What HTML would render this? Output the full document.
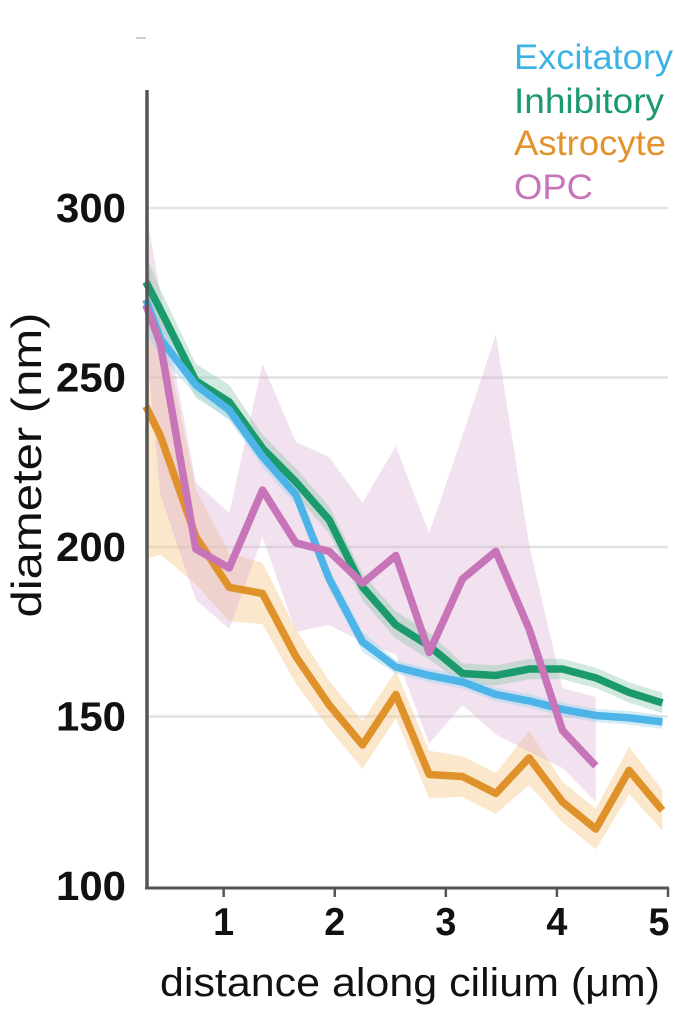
<!DOCTYPE html>
<html><head><meta charset="utf-8"><style>
html,body{margin:0;padding:0;background:#fff;}
svg{display:block;font-family:"Liberation Sans",sans-serif;}
</style></head><body>
<svg id="chart" width="675" height="1023" viewBox="0 0 675 1023">
<line x1="136" y1="38" x2="146" y2="38" stroke="#999" stroke-width="1"/>
<g id="grid"></g>
<g id="bands"></g>
<g id="lines"></g>
<g id="axes"></g>
<text transform="translate(41,465) rotate(-90)" text-anchor="middle" font-size="42" textLength="305" lengthAdjust="spacingAndGlyphs" fill="#111">diameter (nm)</text>
<text x="410" y="996" text-anchor="middle" font-size="40" textLength="500" lengthAdjust="spacingAndGlyphs" fill="#111">distance along cilium (μm)</text>
<g font-size="35">
<text x="514" y="69" fill="#3cb3e4" textLength="159" lengthAdjust="spacingAndGlyphs">Excitatory</text>
<text x="514" y="113" fill="#1b9a6c" textLength="150" lengthAdjust="spacingAndGlyphs">Inhibitory</text>
<text x="514" y="155" fill="#e3922c" textLength="152" lengthAdjust="spacingAndGlyphs">Astrocyte</text>
<text x="514" y="199" fill="#c874b8" textLength="79" lengthAdjust="spacingAndGlyphs">OPC</text>
</g>
</svg>
<script>
const xs = [0.3,0.43,0.75,1.05,1.35,1.65,1.95,2.25,2.55,2.85,3.15,3.45,3.75,4.05,4.35,4.65,4.95];
const astro = [241.5,232.8,203,188.1,186.3,167.7,153.4,141.6,156.5,132.9,132.3,127.3,137.8,124.8,116.8,134.1,122.3];
const astroErr = [45,35,14,10,9,8,7,7,7,7,6,6,8,6,6,7,6];
const inhib = [278.2,270,249,242.8,229.1,219.2,208,188.2,177,170.8,162.7,162.1,164,164,161.4,157.1,154];
const inhibErr = [8,6,5,5,4,4,4,4,4,4,3,3,3,3,3,3,3];
const excit = [273,261.4,247.8,240.4,226.6,215.5,190.6,172,164.6,162.1,160.2,156.5,154.6,152.1,150.3,149.6,148.4];
const excitErr = [10,5,3,3,3,3,3,3,2,2,2,2,2,2,2,2,2];
const opc = [271.4,260,199.4,193.8,216.8,201.2,198.7,189.3,197.5,168.9,190.6,198.7,175.8,145.9,135.4];
const opcUpper = [299,275,219,210,254,231,226.5,213,229.8,204,232.8,262.6,200.6,158.4,155.7];
const opcLower = [261,215.5,184.4,175.8,203,175,177,172,168.3,142,153.4,144.7,139.7,134.8,124.8];
const yTicks = [100,150,200,250,300];
const xTicks = [1,2,3,4,5];

const NS="http://www.w3.org/2000/svg";
const X = v => 147 + (v-0.31)*(668-147)/(5-0.31);
const Y = v => 886 - (v-100)*(886-208)/200;
function mk(tag, attrs, parent){const e=document.createElementNS(NS,tag);for(const k in attrs)e.setAttribute(k,attrs[k]);parent.appendChild(e);return e;}
const grid=document.getElementById('grid'), bands=document.getElementById('bands'), lines=document.getElementById('lines'), axes=document.getElementById('axes');

yTicks.forEach(t=>{
  if(t>100){const g=mk('line',{x1:147,x2:668,y1:Y(t),y2:Y(t),stroke:'#e2e2e2','stroke-width':2.5},grid);
  
  }
  const tl=mk('text',{x:126,y:Y(t)+14,'text-anchor':'end','font-size':41,'font-weight':'bold',fill:'#111',textLength:70,lengthAdjust:'spacingAndGlyphs'},axes);
  tl.textContent=t;
  
  
});
xTicks.forEach(t=>{
  const tk=mk('line',{x1:X(t),x2:X(t),y1:888,y2:897,stroke:'#555','stroke-width':2.5},axes);
  
  
  const tl=mk('text',{x:t===5?X(t)-9:X(t),y:935,'text-anchor':'middle','font-size':39,'font-weight':'bold',fill:'#111',textLength:21,lengthAdjust:'spacingAndGlyphs'},axes);
  tl.textContent=t;
  
  
});
const ya=mk('line',{x1:147,x2:147,y1:90,y2:889,stroke:'#555','stroke-width':3.5},axes);


const xa=mk('line',{x1:145,x2:669,y1:888,y2:888,stroke:'#555','stroke-width':3},axes);



function band(up, lo, color, op, name){
  let d='M'+up.map((v,i)=>X(xs[i])+','+Y(v)).join('L');
  for(let i=lo.length-1;i>=0;i--) d+='L'+X(xs[i])+','+Y(lo[i]);
  const p=mk('path',{d:d+'Z',fill:color,'fill-opacity':op},bands);
  
  
}
function line(vals,color,name){
  const p=mk('polyline',{points:vals.map((v,i)=>X(xs[i])+','+Y(v)).join(' '),fill:'none',stroke:color,'stroke-width':7.5,'stroke-linejoin':'round'},lines);
  
  
}
band(astro.map((v,i)=>v+astroErr[i]),astro.map((v,i)=>v-astroErr[i]),'#f4c98e',0.45,'astrocyte-band');
band(opcUpper,opcLower,'#d9a8d2',0.35,'opc-band');
band(inhib.map((v,i)=>v+inhibErr[i]),inhib.map((v,i)=>v-inhibErr[i]),'#8cc8ad',0.4,'inhibitory-band');
band(excit.map((v,i)=>v+excitErr[i]),excit.map((v,i)=>v-excitErr[i]),'#9fd5ef',0.45,'excitatory-band');
line(astro,'#e0922a','astrocyte-line');
line(inhib,'#1b9a6c','inhibitory-line');
line(excit,'#4cb4e6','excitatory-line');
line(opc,'#c874b8','opc-line');
</script>
</body></html>
